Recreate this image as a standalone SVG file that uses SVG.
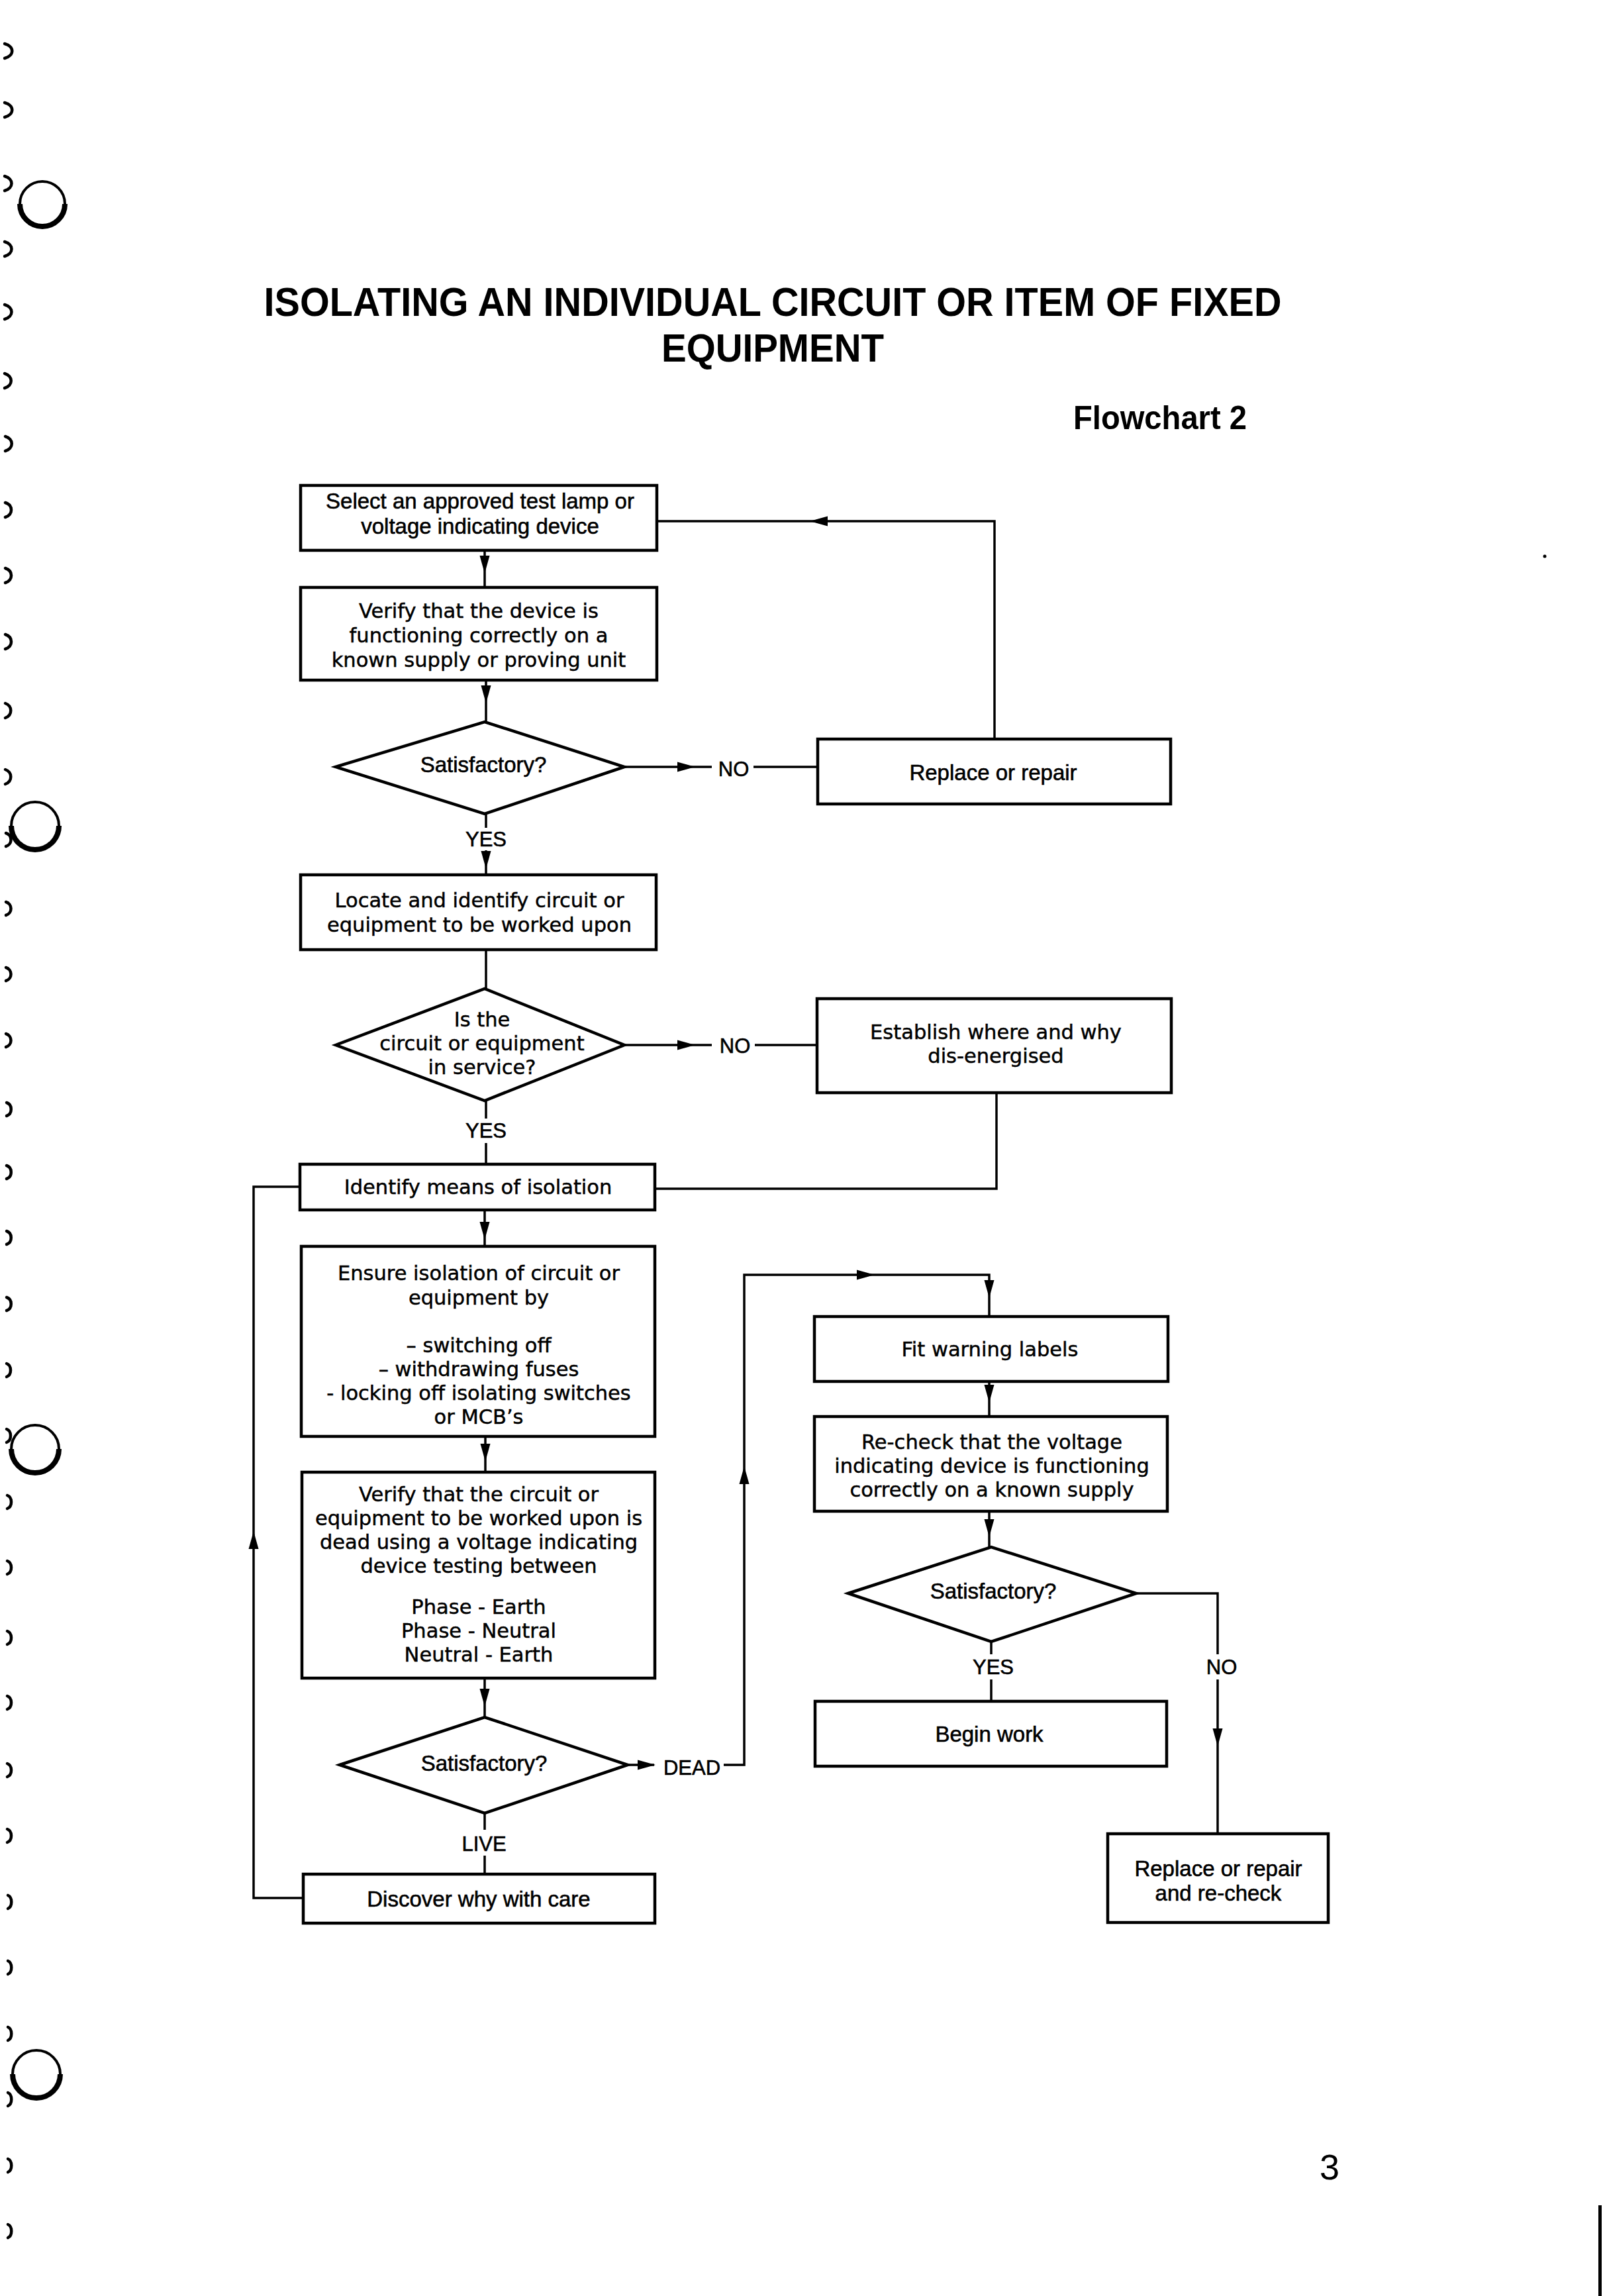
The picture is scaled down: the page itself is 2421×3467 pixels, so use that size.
<svg xmlns="http://www.w3.org/2000/svg" width="2421" height="3467" viewBox="0 0 2421 3467">
<style>
.box{fill:#fff;stroke:#000;stroke-width:4.5}
.dia{fill:#fff;stroke:#000;stroke-width:4.5;stroke-linejoin:miter}
.ln{fill:none;stroke:#000;stroke-width:3.5}
.h{font-family:"Liberation Sans",Arial,sans-serif;font-size:33px;text-anchor:middle;fill:#000;stroke:#000;stroke-width:0.6}
.f{font-family:"DejaVu Sans","Noto Sans",sans-serif;font-size:30.5px;text-anchor:middle;fill:#000;stroke:#000;stroke-width:0.5}
.lab{font-family:"Liberation Sans",Arial,sans-serif;font-size:31px;text-anchor:middle;fill:#000;stroke:#000;stroke-width:0.6}
.title{font-family:"Liberation Sans",Arial,sans-serif;font-weight:bold;text-anchor:middle;fill:#000}
.bind{fill:none;stroke:#000;stroke-width:4.5;stroke-linecap:round}
.hole{fill:none;stroke:#000;stroke-width:4}
.holeb{fill:none;stroke:#000;stroke-width:8}
</style>
<defs>
<path id="ah" d="M0,0 L-7.5,-27 L7.5,-27 Z" fill="#000"/>
</defs>
<rect x="0" y="0" width="2421" height="3467" fill="#fff"/>

<g id="binding">
<path class="bind" d="M7,66 C22,70 22,84 7,88"/>
<path class="bind" d="M7,155 C22,159 22,173 7,177"/>
<path class="bind" d="M7,266 C21,270 21,284 7,288"/>
<path class="bind" d="M7,365 C21,369 21,383 7,387"/>
<path class="bind" d="M7,460 C21,464 21,478 7,482"/>
<path class="bind" d="M7,564 C20,568 20,582 7,586"/>
<path class="bind" d="M8,659 C21,663 21,677 8,681"/>
<path class="bind" d="M8,759 C20,763 20,777 8,781"/>
<path class="bind" d="M8,858 C20,862 20,876 8,880"/>
<path class="bind" d="M8,958 C20,962 20,976 8,980"/>
<path class="bind" d="M8,1062 C19,1066 19,1080 8,1084"/>
<path class="bind" d="M8,1162 C19,1166 19,1180 8,1184"/>
<path class="bind" d="M9,1258 C19,1261 19,1275 9,1278"/>
<path class="bind" d="M9,1362 C19,1365 19,1379 9,1382"/>
<path class="bind" d="M9,1461 C19,1464 19,1478 9,1481"/>
<path class="bind" d="M9,1561 C19,1564 19,1578 9,1581"/>
<path class="bind" d="M10,1665 C19,1668 19,1682 10,1685"/>
<path class="bind" d="M10,1760 C19,1763 19,1777 10,1780"/>
<path class="bind" d="M10,1859 C19,1862 19,1876 10,1879"/>
<path class="bind" d="M10,1959 C19,1962 19,1976 10,1979"/>
<path class="bind" d="M10,2059 C18,2062 18,2076 10,2079"/>
<path class="bind" d="M10,2158 C18,2161 18,2175 10,2178"/>
<path class="bind" d="M11,2258 C19,2261 19,2275 11,2278"/>
<path class="bind" d="M11,2357 C19,2360 19,2374 11,2377"/>
<path class="bind" d="M11,2463 C19,2466 19,2480 11,2483"/>
<path class="bind" d="M11,2561 C19,2564 19,2578 11,2581"/>
<path class="bind" d="M11,2663 C19,2666 19,2680 11,2683"/>
<path class="bind" d="M11,2762 C19,2765 19,2779 11,2782"/>
<path class="bind" d="M12,2862 C19,2865 19,2879 12,2882"/>
<path class="bind" d="M12,2961 C19,2964 19,2978 12,2981"/>
<path class="bind" d="M12,3061 C19,3064 19,3078 12,3081"/>
<path class="bind" d="M12,3160 C19,3163 19,3177 12,3180"/>
<path class="bind" d="M12,3260 C19,3263 19,3277 12,3280"/>
<path class="bind" d="M12,3359 C19,3362 19,3376 12,3379"/>
<circle class="hole" cx="64" cy="308" r="34"/>
<path class="holeb" d="M30,308 A34,34 0 0 0 98,308"/>
<circle class="hole" cx="53" cy="1247" r="36"/>
<path class="holeb" d="M17,1247 A36,36 0 0 0 89,1247"/>
<circle class="hole" cx="53" cy="2188" r="36"/>
<path class="holeb" d="M17,2188 A36,36 0 0 0 89,2188"/>
<circle class="hole" cx="55" cy="3132" r="36"/>
<path class="holeb" d="M19,3132 A36,36 0 0 0 91,3132"/>
</g>

<g id="title">
<text class="title" x="1167" y="477" font-size="61" textLength="1537" lengthAdjust="spacingAndGlyphs">ISOLATING AN INDIVIDUAL CIRCUIT OR ITEM OF FIXED</text>
<text class="title" x="1167" y="546" font-size="60" textLength="336" lengthAdjust="spacingAndGlyphs">EQUIPMENT</text>
<text class="title" x="1752" y="648" font-size="50" textLength="262" lengthAdjust="spacingAndGlyphs">Flowchart 2</text>
</g>

<g id="connectors">
<path class="ln" d="M732,831 L732,887"/>
<use href="#ah" transform="translate(732,866)"/>
<path class="ln" d="M734,1027 L734,1090"/>
<use href="#ah" transform="translate(734,1062)"/>
<path class="ln" d="M943,1158 L1075,1158"/>
<use href="#ah" transform="translate(1050,1158) rotate(-90)"/>
<path class="ln" d="M1138,1158 L1235,1158"/>
<path class="ln" d="M1502,1116 L1502,787 L992,787"/>
<use href="#ah" transform="translate(1223,787) rotate(90)"/>
<path class="ln" d="M734,1229 L734,1250"/>
<path class="ln" d="M734,1284 L734,1321"/>
<use href="#ah" transform="translate(734,1312)"/>
<path class="ln" d="M734,1434 L734,1493"/>
<path class="ln" d="M943,1578 L1075,1578"/>
<use href="#ah" transform="translate(1050,1578) rotate(-90)"/>
<path class="ln" d="M1140,1578 L1234,1578"/>
<path class="ln" d="M734,1662 L734,1689"/>
<path class="ln" d="M734,1726 L734,1758"/>
<path class="ln" d="M1505,1650 L1505,1795 L989,1795"/>
<path class="ln" d="M453,1792 L383,1792 L383,2866 L458,2866"/>
<use href="#ah" transform="translate(383,2312) rotate(180)"/>
<path class="ln" d="M732,1827 L732,1882"/>
<use href="#ah" transform="translate(732,1872)"/>
<path class="ln" d="M733,2169 L733,2223"/>
<use href="#ah" transform="translate(733,2207)"/>
<path class="ln" d="M732,2534 L732,2593"/>
<use href="#ah" transform="translate(732,2577)"/>
<path class="ln" d="M948,2665 L988,2665"/>
<use href="#ah" transform="translate(990,2665) rotate(-90)"/>
<path class="ln" d="M1093,2665 L1124,2665 L1124,1925 L1494,1925 L1494,1988"/>
<use href="#ah" transform="translate(1124,2214) rotate(180)"/>
<use href="#ah" transform="translate(1321,1925) rotate(-90)"/>
<use href="#ah" transform="translate(1494,1960)"/>
<path class="ln" d="M1494,2086 L1494,2139"/>
<use href="#ah" transform="translate(1494,2118)"/>
<path class="ln" d="M1494,2282 L1494,2336"/>
<use href="#ah" transform="translate(1494,2321)"/>
<path class="ln" d="M1497,2479 L1497,2498"/>
<path class="ln" d="M1497,2536 L1497,2569"/>
<path class="ln" d="M1716,2406 L1839,2406 L1839,2498"/>
<path class="ln" d="M1839,2536 L1839,2769"/>
<use href="#ah" transform="translate(1839,2637)"/>
<path class="ln" d="M732,2738 L732,2763"/>
<path class="ln" d="M732,2802 L732,2830"/>
<text class="lab" x="1108" y="1172">NO</text>
<text class="lab" x="1110" y="1590">NO</text>
<text class="lab" x="734" y="1278">YES</text>
<text class="lab" x="734" y="1718">YES</text>
<text class="lab" x="1045" y="2680">DEAD</text>
<text class="lab" x="731" y="2795">LIVE</text>
<text class="lab" x="1500" y="2528">YES</text>
<text class="lab" x="1845" y="2528">NO</text>
</g>

<g id="n-select">
<rect class="box" x="454" y="733" width="538" height="98"/>
<text class="h" x="725" y="768">Select an approved test lamp or</text>
<text class="h" x="725" y="806">voltage indicating device</text>
</g>
<g id="n-verify-device">
<rect class="box" x="454" y="887" width="538" height="140"/>
<text class="f" x="723" y="933">Verify that the device is</text>
<text class="f" x="723" y="970">functioning correctly on a</text>
<text class="f" x="723" y="1007">known supply or proving unit</text>
</g>
<g id="n-satisfactory-1">
<polygon class="dia" points="507,1158 732,1090 943,1158 732,1229"/>
<text class="h" x="730" y="1166">Satisfactory?</text>
</g>
<g id="n-replace-1">
<rect class="box" x="1235" y="1116" width="533" height="98"/>
<text class="h" x="1500" y="1178">Replace or repair</text>
</g>
<g id="n-locate">
<rect class="box" x="454" y="1321" width="537" height="113"/>
<text class="f" x="724" y="1370">Locate and identify circuit or</text>
<text class="f" x="724" y="1407">equipment to be worked upon</text>
</g>
<g id="n-in-service">
<polygon class="dia" points="507,1578 732,1493 943,1578 732,1662"/>
<text class="f" x="728" y="1550">Is the</text>
<text class="f" x="728" y="1586">circuit or equipment</text>
<text class="f" x="728" y="1622">in service?</text>
</g>
<g id="n-establish">
<rect class="box" x="1234" y="1508" width="535" height="142"/>
<text class="f" x="1504" y="1569">Establish where and why</text>
<text class="f" x="1504" y="1605">dis-energised</text>
</g>
<g id="n-identify">
<rect class="box" x="453" y="1758" width="536" height="69"/>
<text class="f" x="722" y="1803">Identify means of isolation</text>
</g>
<g id="n-ensure">
<rect class="box" x="455" y="1882" width="534" height="287"/>
<text class="f" x="723" y="1933">Ensure isolation of circuit or</text>
<text class="f" x="723" y="1970">equipment by</text>
<text class="f" x="723" y="2042">– switching off</text>
<text class="f" x="723" y="2078">– withdrawing fuses</text>
<text class="f" x="723" y="2114">- locking off isolating switches</text>
<text class="f" x="723" y="2150">or MCB’s</text>
</g>
<g id="n-verify-dead">
<rect class="box" x="456" y="2223" width="533" height="311"/>
<text class="f" x="723" y="2267">Verify that the circuit or</text>
<text class="f" x="723" y="2303">equipment to be worked upon is</text>
<text class="f" x="723" y="2339">dead using a voltage indicating</text>
<text class="f" x="723" y="2375">device testing between</text>
<text class="f" x="723" y="2437">Phase - Earth</text>
<text class="f" x="723" y="2473">Phase - Neutral</text>
<text class="f" x="723" y="2509">Neutral - Earth</text>
</g>
<g id="n-satisfactory-2">
<polygon class="dia" points="513,2665 732,2593 948,2665 732,2738"/>
<text class="h" x="731" y="2674">Satisfactory?</text>
</g>
<g id="n-discover">
<rect class="box" x="458" y="2830" width="531" height="74"/>
<text class="h" x="723" y="2879">Discover why with care</text>
</g>
<g id="n-fit">
<rect class="box" x="1230" y="1988" width="534" height="98"/>
<text class="f" x="1495" y="2048">Fit warning labels</text>
</g>
<g id="n-recheck">
<rect class="box" x="1230" y="2139" width="533" height="143"/>
<text class="f" x="1498" y="2188">Re-check that the voltage</text>
<text class="f" x="1498" y="2224">indicating device is functioning</text>
<text class="f" x="1498" y="2260">correctly on a known supply</text>
</g>
<g id="n-satisfactory-3">
<polygon class="dia" points="1281,2406 1497,2336 1716,2406 1497,2479"/>
<text class="h" x="1500" y="2414">Satisfactory?</text>
</g>
<g id="n-begin">
<rect class="box" x="1231" y="2569" width="531" height="98"/>
<text class="h" x="1494" y="2630">Begin work</text>
</g>
<g id="n-replace-2">
<rect class="box" x="1673" y="2769" width="333" height="134"/>
<text class="h" x="1840" y="2833" font-size="32">Replace or repair</text>
<text class="h" x="1840" y="2870" font-size="32">and re-check</text>
</g>

<g id="page">
<text x="2008" y="3291" font-family="Liberation Sans, Arial, sans-serif" font-size="54" text-anchor="middle">3</text>
<rect x="2414" y="3330" width="5" height="137" fill="#000"/>
<circle cx="2333" cy="840" r="2.5" fill="#000"/>
</g>
</svg>
